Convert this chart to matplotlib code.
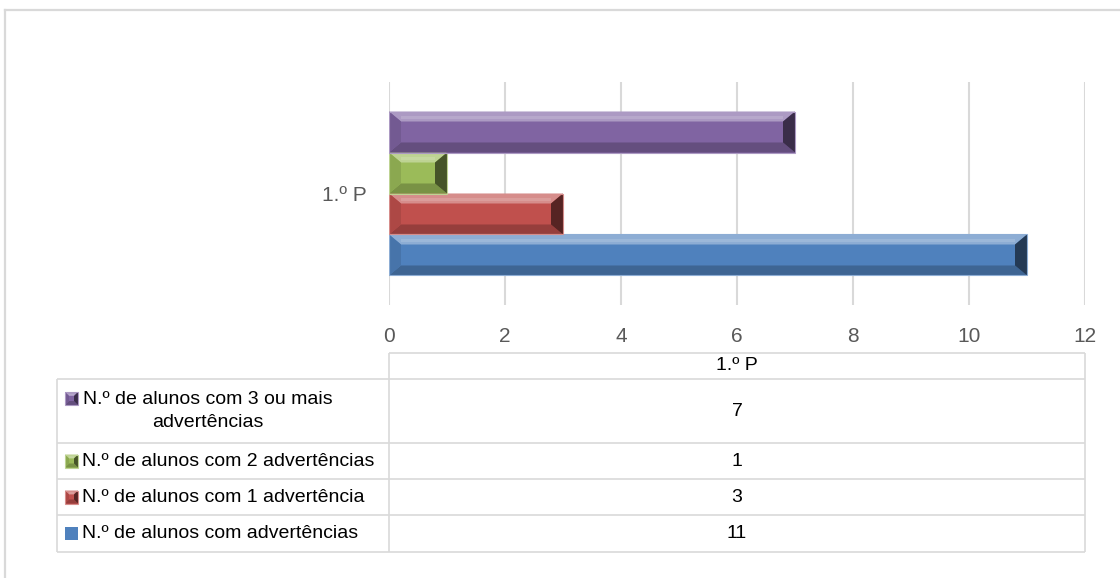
import numpy as np
import matplotlib
matplotlib.use('Agg')
import matplotlib.pyplot as plt
import matplotlib.colors as mcolors
from matplotlib.patches import Polygon, Rectangle

plt.rcParams['font.family'] = ['Liberation Sans', 'DejaVu Sans']

# dados
categoria = '1.º P'
series = ['N.º de alunos com advertências',
          'N.º de alunos com 1 advertência',
          'N.º de alunos com 2 advertências',
          'N.º de alunos com 3 ou mais\nadvertências']
valores = [11, 3, 1, 7]
cores = ['#4F81BD', '#C0504D', '#9BBB59', '#8064A2']
ticks = [0, 2, 4, 6, 8, 10, 12]

W, H = 1120, 578
GRID = '#D9D9D9'

fig = plt.figure(figsize=(W / 100, H / 100), dpi=100)

# camada de fundo em pixels (moldura + tabela de dados)
bg = fig.add_axes([0, 0, 1, 1])
bg.set_xlim(0, W)
bg.set_ylim(H, 0)
bg.axis('off')

# area do grafico
ax = fig.add_axes([389 / W, 1 - 305 / H, 696 / W, 223 / H])
ax.set_facecolor('none')
ax.set_xlim(0, 12)
ax.set_ylim(-0.5, 0.5)


def bevel(axis, x0, y0, w, h, cor, bx, by):
    # barra com efeito de chanfro (estilo Excel 2007)
    base = np.array(mcolors.to_rgb(cor))
    claro = base + (1 - base) * 0.35
    brilho = base + (1 - base) * 0.5
    medio = base * 0.78
    esq = base * 0.9
    escuro = base * 0.45
    x1, y1 = x0 + w, y0 + h
    bx = min(bx, w / 2)
    axis.add_patch(Rectangle((x0, y0), w, h, facecolor=cor, edgecolor='none', zorder=3))
    faces = [
        ([(x0, y1), (x1, y1), (x1 - bx, y1 - by), (x0 + bx, y1 - by)], claro),
        ([(x0, y0), (x1, y0), (x1 - bx, y0 + by), (x0 + bx, y0 + by)], medio),
        ([(x0, y0), (x0, y1), (x0 + bx, y1 - by), (x0 + bx, y0 + by)], esq),
        ([(x1, y0), (x1, y1), (x1 - bx, y1 - by), (x1 - bx, y0 + by)], escuro),
    ]
    for pts, c in faces:
        axis.add_patch(Polygon(pts, closed=True, facecolor=c, edgecolor='none', zorder=4))
    # faixa de brilho no topo
    axis.add_patch(Rectangle((x0 + bx, y1 - by * 0.75), max(w - 2 * bx, 0), by * 0.3,
                             facecolor=brilho, edgecolor='none', alpha=0.6, zorder=4))
    axis.add_patch(Rectangle((x0, y0), w, h, facecolor='none', edgecolor=claro,
                             lw=0.8, zorder=5))


# barras
n = len(valores)
bh = 0.7354 / n
px_x = 696 / 12
px_y = 223 / 1.0
for i, (v, c) in enumerate(zip(valores, cores)):
    yc = (i - (n - 1) / 2) * bh
    b = ax.barh(yc, v, height=bh, color='none')
    r = b.patches[0]
    bevel(ax, r.get_x(), r.get_y(), r.get_width(), r.get_height(), c,
          12 / px_x, 10 / px_y)

ax.set_xticks(ticks)
ax.set_xticklabels([str(t) for t in ticks])
ax.set_yticks([0])
ax.set_yticklabels([categoria])
ax.grid(axis='x', color=GRID, lw=1.5)
ax.set_axisbelow(True)
for s in ax.spines.values():
    s.set_visible(False)
ax.tick_params(length=0, labelsize=15, colors='#595959', pad=16)

# moldura externa
bg.plot([5, W], [10, 10], color=GRID, lw=1.6)
bg.plot([5, 5], [10, H], color=GRID, lw=1.6)

# tabela de dados
xl, xm, xr = 57, 389, 1085
top_h, top_r = 353, 379
linhas = [379, 443, 479, 515, 552]
kw = dict(color=GRID, lw=1.2, solid_capstyle='butt')
bg.plot([xm, xr], [top_h, top_h], **kw)
bg.plot([xm, xm], [top_h, linhas[-1]], **kw)
bg.plot([xr, xr], [top_h, linhas[-1]], **kw)
bg.plot([xl, xl], [top_r, linhas[-1]], **kw)
for yy in linhas:
    bg.plot([xl, xr], [yy, yy], **kw)

xc = (xm + xr) / 2
bg.text(xc, (top_h + top_r) / 2, categoria, ha='center', va='center', fontsize=14)

ordem = list(range(n))[::-1]
for k, i in enumerate(ordem):
    y0, y1 = linhas[k], linhas[k + 1]
    yc = (y0 + y1) / 2
    bg.text(xc, yc, str(valores[i]), ha='center', va='center', fontsize=14)
    lab = series[i]
    if '\n' in lab:
        bg.text(208, yc, lab, ha='center', va='center', fontsize=14,
                multialignment='center', linespacing=1.4)
        my = yc - 12.5
    else:
        bg.text(82, yc, lab, ha='left', va='center', fontsize=14)
        my = yc
    if i == 0:
        bg.add_patch(Rectangle((65, my - 6.5), 13, 13, facecolor=cores[i], edgecolor='none'))
    else:
        bevel(bg, 65, my + 6.5, 13, -13, cores[i], 4, -4)

fig.savefig('out.png', dpi=100)
